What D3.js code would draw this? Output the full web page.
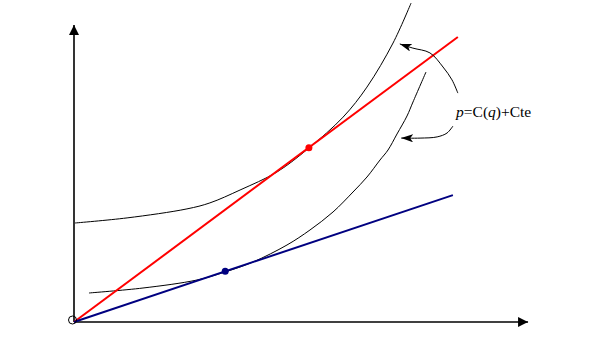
<!DOCTYPE html>
<html><head><meta charset="utf-8">
<script src="https://d3js.org/d3.v7.min.js"></script>
<style>body{margin:0;background:#fff;}svg{display:block;}</style>
</head><body>
<script>
// Data (abstract units)
const upperCurve = [[0.22,33],[11.8,34.7],[25.1,37.7],[30.2,39.7],[36.9,44],[45.1,50],[52.2,58],[59.8,68.3],[65.1,78.3],[70.9,93],[74.9,106.3]];
const lowerCurve = [[3.33,9.67],[15.33,11.33],[27.33,14],[33.56,16.67],[39.78,20],[47.33,25.67],[52.44,30.67],[57.56,36.67],[62,43.33],[65.11,48.33],[68,54],[69.78,57.33],[71.78,62.67],[74,68.67],[75.33,73.33],[78.22,83.33]];
const redLine = [[0,0],[85.3,95]];
const blueLine = [[0,0],[84.2,42.3]];
const redPoint = [52.2,58.1];
const bluePoint = [33.6,16.9];
const arrowUpper = [[85.3,76.3],[84,80.7],[82,85],[79.1,89.7],[75.3,91.3],[72.4,92.7]];
const arrowLower = [[84.2,65.3],[82.9,63],[80.7,61.7],[76.9,61.3],[72.7,61.3]];
const labelPos = [84.9,68.3];
const axisMax = [100.9, 99];

const W=605,H=364;
const x=d3.scaleLinear().domain([0,100]).range([74,524]);
const y=d3.scaleLinear().domain([0,100]).range([322,22]);

const svg=d3.select("body").append("svg").attr("width",W).attr("height",H);
const defs=svg.append("defs");
defs.append("marker").attr("id","axArr").attr("viewBox","0 0 10 10").attr("refX",10).attr("refY",5)
  .attr("markerWidth",10).attr("markerHeight",10).attr("markerUnits","userSpaceOnUse").attr("orient","auto")
  .append("path").attr("d","M0,0L10,5L0,10Z").attr("fill","#000");
defs.append("marker").attr("id","anArr").attr("viewBox","0 0 12 8").attr("refX",12).attr("refY",4)
  .attr("markerWidth",12).attr("markerHeight",8).attr("markerUnits","userSpaceOnUse").attr("orient","auto")
  .append("path").attr("d","M0,0L12,4L0,8L3,4Z").attr("fill","#000");

// axes
svg.append("line").attr("x1",x(0)).attr("y1",y(0)).attr("x2",x(0)).attr("y2",y(axisMax[1]))
  .attr("stroke","#000").attr("stroke-width",1.6).attr("marker-end","url(#axArr)");
svg.append("line").attr("x1",x(0)).attr("y1",y(0)).attr("x2",x(axisMax[0])).attr("y2",y(0))
  .attr("stroke","#000").attr("stroke-width",1.6).attr("marker-end","url(#axArr)");

const line=d3.line().x(d=>x(d[0])).y(d=>y(d[1])).curve(d3.curveCatmullRom.alpha(0.5));
svg.append("path").attr("d",line(upperCurve)).attr("fill","none").attr("stroke","#000").attr("stroke-width",1);
svg.append("path").attr("d",line(lowerCurve)).attr("fill","none").attr("stroke","#000").attr("stroke-width",1);

const sl=d3.line().x(d=>x(d[0])).y(d=>y(d[1]));
svg.append("path").attr("d",sl(redLine)).attr("stroke","#ff0000").attr("stroke-width",2).attr("fill","none");
svg.append("path").attr("d",sl(blueLine)).attr("stroke","#000080").attr("stroke-width",2).attr("fill","none");

svg.append("circle").attr("cx",x(redPoint[0])).attr("cy",y(redPoint[1])).attr("r",3.5).attr("fill","#ff0000");
svg.append("circle").attr("cx",x(bluePoint[0])).attr("cy",y(bluePoint[1])).attr("r",3.5).attr("fill","#000080");

// origin circle
svg.append("circle").attr("cx",x(0)-1.5).attr("cy",y(0)-2).attr("r",4).attr("fill","none").attr("stroke","#000").attr("stroke-width",1);

// annotation arrows
svg.append("path").attr("d",line(arrowUpper)).attr("fill","none").attr("stroke","#000").attr("stroke-width",1).attr("marker-end","url(#anArr)");
svg.append("path").attr("d",line(arrowLower)).attr("fill","none").attr("stroke","#000").attr("stroke-width",1).attr("marker-end","url(#anArr)");

const t=svg.append("text").attr("x",x(labelPos[0])).attr("y",y(labelPos[1]))
  .attr("font-family","'Liberation Serif','Times New Roman',serif").attr("font-size",15.5).attr("fill","#000");
t.append("tspan").attr("font-style","italic").text("p");
t.append("tspan").text("=C(");
t.append("tspan").attr("font-style","italic").text("q");
t.append("tspan").text(")+Cte");
</script>
</body></html>
